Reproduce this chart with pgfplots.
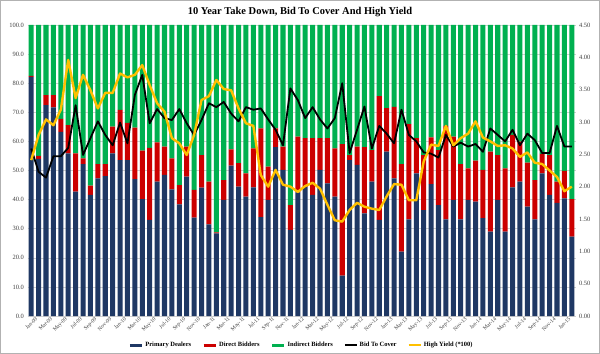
\documentclass[border=0pt]{standalone}
\usepackage{pgfplots}
\pgfplotsset{compat=1.18}
\usepackage{pgfplotstable}
\usepackage{fontspec}
\setmainfont{Liberation Serif}
\definecolor{pdnavy}{HTML}{1F3864}
\definecolor{dbred}{HTML}{CC0000}
\definecolor{idgreen}{HTML}{00B050}
\definecolor{hyyel}{HTML}{FFC000}
\definecolor{gridc}{HTML}{D0D0D0}
\pgfplotstableread{
k pd db id btc hy
0 82.2 0.3 17.5 2.59 2.41
1 54.0 1.0 45.0 2.23 2.80
2 72.5 3.4 24.1 2.14 3.04
3 71.7 4.2 24.1 2.47 2.95
4 63.3 4.4 32.3 2.47 3.19
5 55.9 9.7 34.4 2.60 3.96
6 42.7 13.2 44.1 3.26 3.37
7 52.2 2.0 45.8 2.49 3.73
8 41.6 3.2 55.2 2.75 3.49
9 47.3 4.9 47.8 3.01 3.21
10 48.1 4.1 47.8 2.80 3.45
11 55.9 9.2 34.9 2.64 3.45
12 53.6 17.2 29.2 2.99 3.75
13 53.6 12.8 33.6 2.67 3.69
14 47.0 17.7 35.3 3.42 3.73
15 40.2 16.6 43.2 3.73 3.88
16 33.0 24.8 42.2 2.98 3.57
17 46.2 13.5 40.3 3.20 3.29
18 48.5 9.7 41.8 3.06 3.16
19 43.5 10.7 45.8 3.03 2.75
20 38.4 6.6 55.0 3.20 2.67
21 47.9 10.3 41.8 2.98 2.49
22 33.8 9.5 56.7 2.80 2.80
23 44.1 11.2 44.7 3.03 3.34
24 31.5 14.7 53.8 3.29 3.40
25 28.4 0.3 71.3 3.23 3.65
26 39.9 6.8 53.3 3.31 3.51
27 51.7 5.6 42.7 3.13 3.49
28 44.5 8.0 47.5 3.01 3.21
29 41.0 8.0 51.0 3.23 2.98
30 44.2 13.4 42.4 3.19 2.94
31 34.0 30.5 35.5 3.21 2.18
32 39.9 11.4 48.7 3.04 2.00
33 58.0 6.5 35.5 2.88 2.26
34 50.2 8.0 41.8 2.64 2.03
35 29.6 8.5 61.9 3.52 2.00
36 42.5 19.1 38.4 3.34 1.92
37 44.4 16.7 38.9 3.06 2.01
38 41.6 19.5 38.9 3.23 2.06
39 50.2 10.9 38.9 3.04 1.97
40 45.6 15.5 38.9 2.90 1.72
41 41.0 16.6 42.4 3.06 1.48
42 13.9 45.2 40.9 3.60 1.46
43 53.6 1.7 44.7 2.52 1.64
44 51.9 6.3 41.8 2.88 1.75
45 35.3 22.7 42.0 3.24 1.69
46 46.2 10.8 43.0 2.59 1.66
47 33.0 42.6 24.4 2.94 1.64
48 56.5 14.9 28.6 2.82 1.85
49 47.3 24.6 28.1 2.67 2.04
50 22.1 30.1 47.8 3.19 2.03
51 33.2 32.7 34.1 2.80 1.79
52 49.0 12.1 38.9 2.70 1.79
53 36.4 18.9 44.7 2.53 2.39
54 45.3 16.1 38.6 2.51 2.65
55 38.1 18.9 43.0 2.45 2.63
56 33.2 32.1 34.7 2.80 2.94
57 39.9 21.7 38.4 2.62 2.64
58 33.2 19.0 47.8 2.68 2.75
59 39.9 10.8 49.3 2.62 2.82
60 39.3 14.1 46.6 2.66 3.01
61 33.6 16.6 49.8 2.54 2.76
62 29.0 27.5 43.5 2.90 2.70
63 39.9 15.4 44.7 2.80 2.63
64 29.0 21.7 49.3 2.70 2.64
65 44.2 18.0 37.8 2.88 2.59
66 46.2 13.7 40.1 2.64 2.46
67 37.6 15.1 47.3 2.82 2.53
68 33.2 13.5 53.3 2.72 2.37
69 49.0 6.7 44.3 2.52 2.35
70 41.6 13.7 44.7 2.52 2.25
71 38.9 7.3 53.8 2.94 2.15
72 40.4 9.5 50.1 2.62 1.93
73 27.3 12.9 59.8 2.62 2.00
}\data
\begin{document}
\begin{tikzpicture}
\begin{axis}[
  at={(0,0)}, anchor=south west,
  width=548bp, height=291bp, scale only axis,
  xmin=-0.5, xmax=73.5, ymin=0, ymax=100,
  ybar stacked, bar width=0.68,
  ytick={0,10,20,30,40,50,60,70,80,90,100},
  ymajorgrids, grid style={gridc, line width=0.5bp},
  axis line style={draw=none}, major tick length=0pt,
  xtick={0,2,...,72},
  xticklabels={Jan-09,Mar-09,May-09,Jul-09,Sep-09,Nov-09,Jan-10,Mar-10,May-10,Jul-10,Sep-10,Nov-10,Jan-11,Mar-11,May-11,Jul-11,Sep-11,Nov-11,Jan-12,Mar-12,May-12,Jul-12,Sep-12,Nov-12,Jan-13,Mar-13,May-13,Jul-13,Sep-13,Nov-13,Jan-14,Mar-14,May-14,Jul-14,Sep-14,Nov-14,Jan-15},
  x tick label style={rotate=45, anchor=north east, font=\fontsize{5.5}{6}\selectfont, text=black!75, inner sep=1bp, xshift=3.5bp, yshift=-2bp},
  y tick label style={font=\fontsize{6.5}{7}\selectfont, text=black!75, /pgf/number format/.cd, fixed, fixed zerofill, precision=1},
  /pgf/number format/assume math mode=true,
]
\addplot[fill=pdnavy, draw=none] table[x=k, y=pd]{\data};
\addplot[fill=dbred, draw=none] table[x=k, y=db]{\data};
\addplot[fill=idgreen, draw=none] table[x=k, y=id]{\data};
\end{axis}
\begin{axis}[
  at={(0,0)}, anchor=south west,
  width=548bp, height=291bp, scale only axis,
  xmin=-0.5, xmax=73.5, ymin=0, ymax=4.5,
  axis y line*=right, axis x line=none,
  axis line style={draw=none}, major tick length=0pt,
  ytick={0,0.5,1,1.5,2,2.5,3,3.5,4,4.5},
  y tick label style={font=\fontsize{6.5}{7}\selectfont, text=black!75, /pgf/number format/.cd, fixed, fixed zerofill, precision=2},
  /pgf/number format/assume math mode=true,
  legend columns=5,
  legend style={at={(0.5,0)}, anchor=center, yshift=-29bp, draw=none, fill=none,
    font=\fontsize{6.5}{7}\selectfont\bfseries, inner sep=0pt,
    /tikz/every even column/.append style={column sep=9bp}},
  legend image code/.code={\draw[#1] (0bp,0bp) -- (12bp,0bp);},
]
\addlegendimage{pdnavy, line width=3bp}
\addlegendentry{Primary Dealers}
\addlegendimage{dbred, line width=3bp}
\addlegendentry{Direct Bidders}
\addlegendimage{idgreen, line width=3bp}
\addlegendentry{Indirect Bidders}
\addplot[black, line width=1.8bp, line join=round] table[x=k, y=btc]{\data};
\addlegendentry{Bid To Cover}
\addplot[hyyel, line width=2.4bp, line join=round] table[x=k, y=hy]{\data};
\addlegendentry{High Yield (*100)}
\end{axis}
\node[font=\fontsize{10.5}{12}\selectfont\bfseries] at (272.5bp,304bp) {10 Year Take Down, Bid To Cover And High Yield};
\draw[black!30, line width=1.2bp] (-27.5bp,-38bp) rectangle (572.5bp,316bp);
\pgfresetboundingbox
\useasboundingbox (-27.5bp,-38bp) rectangle (572.5bp,316bp);
\end{tikzpicture}
\end{document}
